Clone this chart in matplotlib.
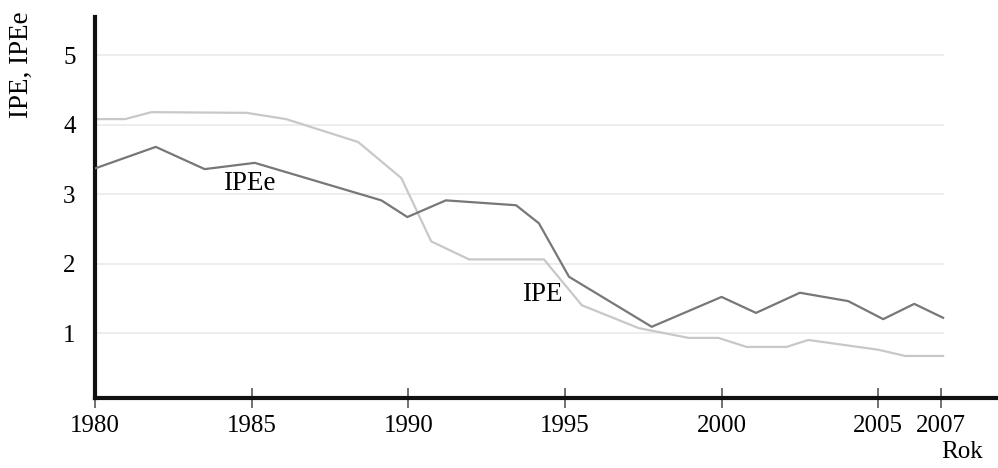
import numpy as np
import matplotlib.pyplot as plt

# IPEe (dark line)
ipee_years = [1980.0, 1981.94, 1983.5, 1985.1, 1989.14, 1989.97, 1991.2, 1993.44,
              1994.17, 1995.13, 1997.77, 2000.0, 2001.1, 2002.5, 2004.04, 2005.16,
              2006.15, 2007.07]
ipee_values = [3.37, 3.68, 3.36, 3.45, 2.91, 2.67, 2.91, 2.84,
               2.58, 1.81, 1.09, 1.52, 1.29, 1.58, 1.46, 1.20,
               1.42, 1.22]

# IPE (light line)
ipe_years = [1980.0, 1980.96, 1981.8, 1984.84, 1986.1, 1988.4, 1989.78, 1990.73,
             1991.94, 1994.33, 1995.54, 1997.36, 1998.95, 1999.9, 2000.8, 2002.07,
             2002.77, 2005.0, 2005.86, 2007.07]
ipe_values = [4.08, 4.08, 4.18, 4.17, 4.08, 3.75, 3.23, 2.32,
              2.06, 2.06, 1.40, 1.07, 0.93, 0.93, 0.80, 0.80,
              0.90, 0.76, 0.67, 0.67]

x_ticks = [1980, 1985, 1990, 1995, 2000, 2005, 2007]
y_ticks = [1, 2, 3, 4, 5]

plt.rcParams['font.family'] = ['Liberation Serif', 'DejaVu Serif']

fig = plt.figure(figsize=(9.98, 4.68), dpi=100)
ax = fig.add_axes([0.0952, 0.1496, 0.9028, 0.8141])

# light grid lines, stopping at the last year
ax.hlines(y_ticks, 1980, 2007.1, colors='#ececec', linewidth=1.3, zorder=1)

ax.plot(ipe_years, ipe_values, color='#c8c8c8', linewidth=1.6, zorder=2)
ax.plot(ipee_years, ipee_values, color='#777777', linewidth=1.6, zorder=3)

ax.text(1984.94, 3.16, "IPEe", fontsize=19.5, ha='center', va='center')
ax.text(1994.27, 1.55, "IPE", fontsize=19.5, ha='center', va='center')

ax.set_xlim(1980, 2008.76)
ax.set_ylim(0.065, 5.55)

ax.set_xticks(x_ticks)
ax.set_xticklabels([str(t) for t in x_ticks])
ax.set_yticks(y_ticks)
ax.set_yticklabels([str(t) for t in y_ticks])

ax.tick_params(axis='x', direction='inout', length=14, width=1.3,
               color='#666666', labelsize=18, pad=5)
ax.tick_params(axis='y', length=0, labelsize=18, pad=14)

for side in ['top', 'right']:
    ax.spines[side].set_visible(False)
for side in ['left', 'bottom']:
    ax.spines[side].set_linewidth(3)
    ax.spines[side].set_color('#111111')
    ax.spines[side].set_capstyle('projecting')

fig.text(21 / 998, 1 - 65 / 468, "IPE, IPEe", rotation=90, fontsize=19.5,
         ha='center', va='center')
fig.text(962 / 998, 1 - 458 / 468, "Rok", fontsize=18, ha='center', va='baseline')

fig.savefig("out.png", dpi=100)
